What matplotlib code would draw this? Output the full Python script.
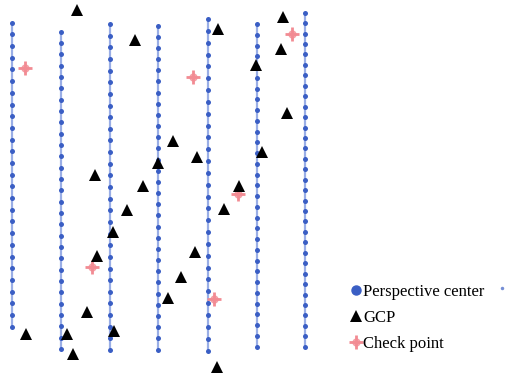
import numpy as np
import matplotlib.pyplot as plt
from matplotlib.lines import Line2D
from matplotlib.legend_handler import HandlerTuple

plt.rcParams['font.family'] = ['Liberation Serif', 'DejaVu Serif']

# flight lines (image coordinates): x, first exposure y, last exposure y, exposures
line_x = [12, 61, 110, 158, 208, 257, 305]
line_top = [22.7, 31.7, 24.0, 25.5, 19.0, 24.0, 12.7]
line_bottom = [326.7, 349.0, 350.0, 349.5, 350.5, 346.7, 346.7]
line_count = [27, 29, 29, 30, 29, 31, 33]

# ground control points
gcp_x = [77, 135, 218, 283, 281, 256, 287, 173, 158, 197, 262, 95, 143, 239,
         127, 224, 113, 195, 97, 181, 168, 87, 26, 67, 114, 73, 217]
gcp_y = [10, 40, 29, 17, 49, 65, 113, 141, 163, 157, 152, 175, 186, 186,
         210, 209, 232, 252, 256, 277, 298, 312, 334, 334, 331, 354, 367]

# check points
chk_x = [25, 193, 292, 92, 238, 214]
chk_y = [68, 77, 34, 267, 194, 299]

blue = '#3a5ec4'
light_blue = '#9aaee6'
pink = '#f28b93'

fig = plt.figure(figsize=(5.05, 3.79), dpi=100)
ax = fig.add_axes([0, 0, 1, 1])

for x, y0, y1, n in zip(line_x, line_top, line_bottom, line_count):
    ys = np.linspace(y0, y1, n)
    ax.plot([x] * n, ys, color=light_blue, lw=1.6, zorder=1)
    ax.plot([x] * n, ys, 'o', color=blue, ms=3.6, mew=0, zorder=2)

ax.plot(chk_x, chk_y, 'o', color=pink, ms=6, mew=0, alpha=0.8, zorder=3)
ax.plot(chk_x, chk_y, '+', color=pink, ms=10, mew=2, zorder=3)
ax.plot(gcp_x, gcp_y, '^', color='black', ms=8, mew=0, zorder=4)

# small stray dot at the right edge of the legend
ax.plot([502], [288], 'o', color=blue, ms=2.5, mew=0, alpha=0.7)

h_pc = Line2D([], [], marker='o', color=blue, ls='none', ms=6.5)
h_gcp = Line2D([], [], marker='^', color='black', ls='none', ms=8, mew=0)
h_chk1 = Line2D([], [], marker='o', color=pink, ls='none', ms=6, mew=0, alpha=0.8)
h_chk2 = Line2D([], [], marker='+', color=pink, ls='none', ms=10, mew=2)
ax.legend([h_pc, h_gcp, (h_chk1, h_chk2)],
          ['Perspective center', 'GCP', 'Check point'],
          handler_map={tuple: HandlerTuple(ndivide=1, pad=0)},
          loc='upper left', bbox_to_anchor=(350 / 505, 1 - 284 / 379),
          frameon=False, fontsize=12, borderpad=0, borderaxespad=0,
          handlelength=0.72, handletextpad=0.08, labelspacing=0.6)

ax.set_xlim(0, 505)
ax.set_ylim(379, 0)
ax.axis('off')

fig.savefig('out.png', dpi=100)
